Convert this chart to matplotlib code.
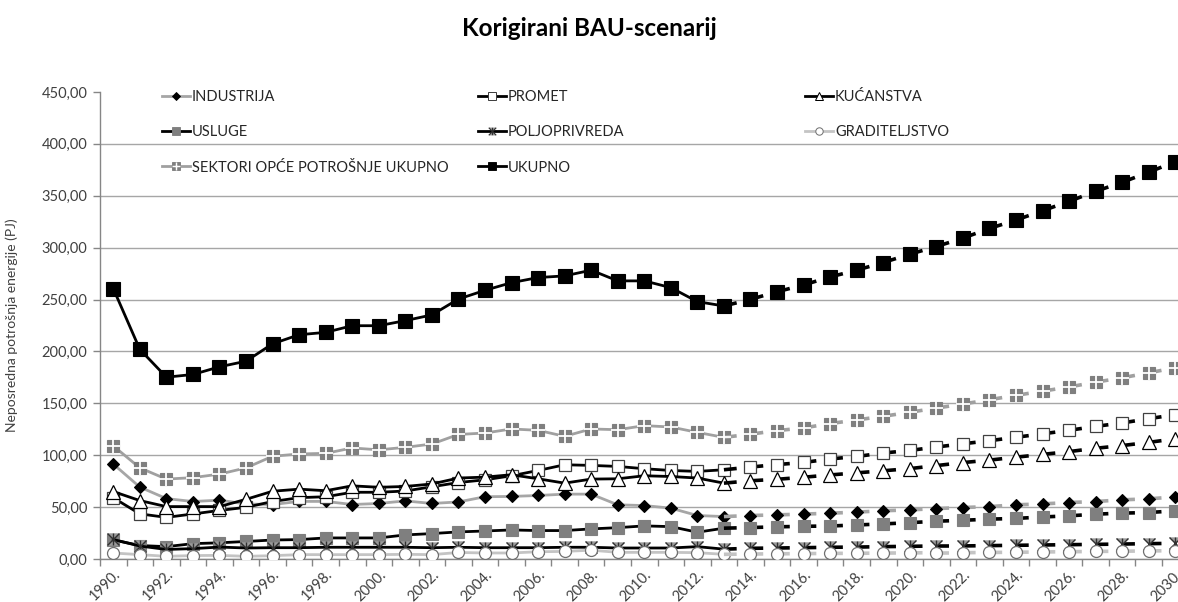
import matplotlib
matplotlib.use("Agg")
import matplotlib.pyplot as plt
from matplotlib.lines import Line2D
from matplotlib.collections import LineCollection
from matplotlib.path import Path
from matplotlib.ticker import FixedLocator, FuncFormatter

# ---- data (PJ), 1990-2030 ----
years = list(range(1990, 2031))
projection_start = 2013

industrija = [91.5, 69.3, 58.2, 55.4, 56.7, 53.0, 52.5, 55.5, 55.5, 52.5,
              53.5, 56.0, 53.5, 55.0, 60.0, 60.3, 61.2, 62.5, 62.5, 52.2,
              51.5, 49.0, 41.9, 40.9, 41.9, 42.5, 43.3, 44.1, 45.2, 46.5,
              47.3, 48.6, 49.6, 50.5, 52.2, 53.1, 54.4, 55.4, 57.0, 58.0, 59.8]
promet = [59.0, 43.5, 40.1, 43.4, 46.8, 49.8, 55.4, 59.1, 60.0, 64.3,
          64.3, 65.5, 69.6, 73.7, 76.3, 80.2, 85.3, 90.8, 90.2, 89.2,
          87.0, 85.3, 84.4, 86.0, 88.6, 91.0, 93.0, 96.4, 98.8, 102.1,
          104.6, 107.9, 111.0, 114.0, 117.3, 120.6, 124.0, 127.8, 131.1, 135.2, 139.1]
kucanstva = [65.0, 56.3, 50.5, 50.5, 50.5, 57.5, 65.3, 67.3, 65.8, 70.5,
             69.1, 69.9, 72.3, 78.0, 78.9, 81.2, 77.3, 73.1, 77.0, 77.3,
             80.2, 79.5, 78.0, 73.1, 75.4, 76.8, 78.8, 81.0, 83.0, 85.0,
             87.1, 90.0, 92.9, 95.3, 98.1, 100.8, 103.5, 106.7, 109.3, 112.4, 115.8]
usluge = [18.4, 13.0, 11.9, 14.8, 15.6, 16.9, 18.3, 18.7, 20.3, 20.3,
          20.3, 23.2, 24.5, 26.1, 27.0, 28.0, 27.4, 27.4, 29.0, 30.2,
          31.9, 31.2, 25.8, 29.7, 30.3, 31.0, 31.5, 31.8, 32.8, 33.8,
          35.0, 36.4, 37.3, 38.4, 39.1, 40.5, 41.6, 43.2, 44.2, 44.8, 46.4]
poljoprivreda = [18.8, 12.5, 9.2, 10.0, 11.5, 10.6, 10.9, 10.9, 11.3, 11.3,
                 11.3, 11.3, 10.9, 11.3, 10.9, 10.9, 10.9, 11.3, 11.3, 10.6,
                 10.6, 10.6, 11.9, 9.5, 10.3, 10.6, 10.9, 11.3, 11.5, 11.9,
                 12.2, 12.6, 12.6, 12.9, 13.2, 13.5, 13.8, 14.1, 14.4, 14.8, 15.1]
graditeljstvo = [5.8, 4.2, 2.6, 3.3, 3.5, 2.6, 3.2, 4.2, 4.2, 4.2,
                 4.2, 4.5, 4.2, 6.3, 5.8, 5.8, 7.0, 7.3, 8.5, 6.4,
                 6.4, 6.4, 6.1, 4.5, 4.8, 5.0, 5.2, 5.4, 5.5, 5.7,
                 5.9, 6.1, 6.1, 6.3, 6.5, 6.8, 7.0, 7.3, 7.5, 7.8, 8.0]
sektori = [109.0, 87.8, 77.0, 78.4, 81.8, 87.8, 99.0, 101.2, 101.8, 107.0,
           105.2, 107.6, 110.8, 120.0, 121.4, 125.3, 124.0, 118.2, 125.3, 124.6,
           128.5, 127.2, 122.0, 117.2, 120.3, 123.7, 126.3, 130.5, 134.0, 137.5,
           141.4, 145.4, 149.3, 153.5, 157.7, 161.7, 165.8, 170.4, 174.6, 179.4, 184.3]
ukupno = [260.6, 202.0, 175.2, 177.8, 185.2, 190.6, 207.4, 216.1, 218.4, 224.8,
          224.8, 229.7, 235.2, 250.5, 258.9, 266.3, 271.2, 272.8, 278.3, 268.0,
          268.0, 261.5, 248.0, 243.8, 250.2, 257.5, 264.1, 271.8, 278.3, 285.7,
          293.7, 301.1, 309.2, 318.5, 326.6, 335.6, 344.6, 354.3, 363.0, 372.7, 382.9]

labels = ["INDUSTRIJA", "PROMET", "KUĆANSTVA", "USLUGE", "POLJOPRIVREDA",
          "GRADITELJSTVO", "SEKTORI OPĆE POTROŠNJE UKUPNO", "UKUPNO"]
y_ticks = [0, 50, 100, 150, 200, 250, 300, 350, 400, 450]

# ---- marker shapes ----
star = Path([(-1, -1), (1, 1), (-1, 1), (1, -1), (0, -1), (0, 1)],
            [Path.MOVETO, Path.LINETO, Path.MOVETO, Path.LINETO, Path.MOVETO, Path.LINETO])
bowtie = Path([(-1, 1), (1, 1), (0, 0), (-1, 1), (-1, -1), (1, -1), (0, 0), (-1, -1)],
              [Path.MOVETO, Path.LINETO, Path.LINETO, Path.CLOSEPOLY,
               Path.MOVETO, Path.LINETO, Path.LINETO, Path.CLOSEPOLY])

GRAY = "#7f7f7f"
styles = {
    "INDUSTRIJA": dict(line="#a6a6a6", layers=[dict(marker="D", ms=6.6, mfc="black", mec="black", mew=0.8)]),
    "PROMET": dict(line="black", layers=[dict(marker="s", ms=8.4, mfc="white", mec="#404040", mew=0.9)]),
    "KUĆANSTVA": dict(line="black", layers=[dict(marker="^", ms=9.4, mfc="white", mec="black", mew=0.9)]),
    "USLUGE": dict(line="black", layers=[dict(marker="s", ms=8.4, mfc=GRAY, mec=GRAY, mew=0.8)]),
    "POLJOPRIVREDA": dict(line="black", layers=[dict(marker=bowtie, ms=8.6, mfc="#9a9a9a", mec="#9a9a9a", mew=0.3),
                                                 dict(marker=star, ms=8.6, mfc="none", mec="#303030", mew=1.0)]),
    "GRADITELJSTVO": dict(line="#c4c4c4", layers=[dict(marker="o", ms=8.6, mfc="white", mec="#707070", mew=0.9)]),
    "SEKTORI OPĆE POTROŠNJE UKUPNO": dict(line="#a0a0a0", layers=[dict(marker="s", ms=8.6, mfc=GRAY, mec=GRAY, mew=0.8),
                                                                dict(marker="+", ms=9.4, mfc="white", mec="white", mew=1.3)]),
    "UKUPNO": dict(line="black", layers=[dict(marker="s", ms=9.4, mfc="black", mec="black", mew=0.8)]),
}
values = [industrija, promet, kucanstva, usluge, poljoprivreda, graditeljstvo, sektori, ukupno]

plt.rcParams["font.family"] = ["Lato", "DejaVu Sans"]
AX_GRAY = "#868686"
TXT = "#404040"

W, H = 1178, 602
fig = plt.figure(figsize=(W / 100, H / 100), dpi=100)
ax = fig.add_axes([100 / W, 43 / H, 41 * 26.55 / W, 467 / H])

x = list(range(len(years)))
split = years.index(projection_start)
LW = 2.0
DASH_FRAC = 0.48

for k, (name, vals) in enumerate(zip(labels, values)):
    st = styles[name]
    z = 3 + k * 3
    # measured part: solid line with markers
    first = st["layers"][0]
    ax.plot(x[:split + 1], vals[:split + 1], color=st["line"], lw=LW, solid_joinstyle="round",
            marker=first["marker"], ms=first["ms"], mfc=first["mfc"], mec=first["mec"],
            mew=first["mew"], zorder=z)
    # projection markers
    ax.plot(x[split + 1:], vals[split + 1:], linestyle="none",
            marker=first["marker"], ms=first["ms"], mfc=first["mfc"], mec=first["mec"],
            mew=first["mew"], zorder=z + 1)
    for lay in st["layers"][1:]:
        ax.plot(x, vals, linestyle="none", marker=lay["marker"], ms=lay["ms"],
                mfc=lay["mfc"], mec=lay["mec"], mew=lay["mew"], zorder=z + 2)
    # projection line: a short dash leaving each point towards the next one
    segs = []
    for i in range(split, len(x) - 1):
        x0, y0 = x[i], vals[i]
        x1 = x0 + DASH_FRAC * (x[i + 1] - x0)
        y1 = y0 + DASH_FRAC * (vals[i + 1] - y0)
        segs.append([(x0, y0), (x1, y1)])
    ax.add_collection(LineCollection(segs, colors=st["line"], linewidths=LW + 0.6,
                                     capstyle="butt", zorder=z + 0.5))

# ---- axes ----
ax.set_xlim(-0.5, len(years) - 0.5)
ax.set_ylim(0, 450)
for s in ("top", "right"):
    ax.spines[s].set_visible(False)
for s in ("left", "bottom"):
    ax.spines[s].set_color(AX_GRAY)
    ax.spines[s].set_linewidth(1.0)

ax.yaxis.set_major_locator(FixedLocator(y_ticks))
ax.yaxis.set_major_formatter(FuncFormatter(lambda v, p: f"{v:.2f}".replace(".", ",")))
ax.tick_params(axis="y", length=5, width=1, color=AX_GRAY, labelsize=10.5, labelcolor=TXT, pad=4)
ax.grid(axis="y", color="#a6a6a6", lw=1.0, zorder=0)
ax.set_axisbelow(True)
ax.yaxis.get_gridlines()[-1].set_visible(False)

major = list(range(0, len(years), 2))
ax.xaxis.set_major_locator(FixedLocator(major))
ax.set_xticklabels([f"{years[i]}." for i in major])
ax.xaxis.set_minor_locator(FixedLocator([i - 0.5 for i in range(len(years) + 1)]))
ax.tick_params(axis="x", which="major", length=0, labelsize=10.5, labelcolor=TXT, pad=6)
ax.tick_params(axis="x", which="minor", length=5, width=1, color=AX_GRAY)
for lbl in ax.get_xticklabels():
    lbl.set_rotation(45)
    lbl.set_ha("right")
    lbl.set_va("top")
    lbl.set_rotation_mode("anchor")

ax.set_ylabel("Neposredna potrošnja energije (PJ)", fontsize=10, color=TXT)
ax.yaxis.set_label_coords((18 - 100) / (41 * 26.55), 0.5)

fig.text(0.5, 1 - 28 / H, "Korigirani BAU-scenarij", ha="center", va="center",
         fontsize=17.5, fontweight="bold", color="black")

# ---- legend: three columns ----
def handle(name):
    st = styles[name]
    parts = []
    for j, lay in enumerate(st["layers"]):
        parts.append(Line2D([], [], color=st["line"], lw=LW if j == 0 else 0,
                            marker=lay["marker"], ms=lay["ms"] * 0.62, mfc=lay["mfc"],
                            mec=lay["mec"], mew=lay["mew"] * 0.8))
    return tuple(parts) if len(parts) > 1 else parts[0]

columns = [(162, ["INDUSTRIJA", "USLUGE", "SEKTORI OPĆE POTROŠNJE UKUPNO"]),
           (478, ["PROMET", "POLJOPRIVREDA", "UKUPNO"]),
           (805, ["KUĆANSTVA", "GRADITELJSTVO"])]
for xpx, names in columns:
    fig.legend([handle(n) for n in names], names, loc="upper left",
               bbox_to_anchor=(xpx / W, 1 - 90 / H), frameon=False,
               fontsize=10.5, labelcolor="#262626", handlelength=1.9,
               handletextpad=0.15, labelspacing=1.46, borderpad=0, borderaxespad=0)

fig.savefig("out.png", dpi=100)
